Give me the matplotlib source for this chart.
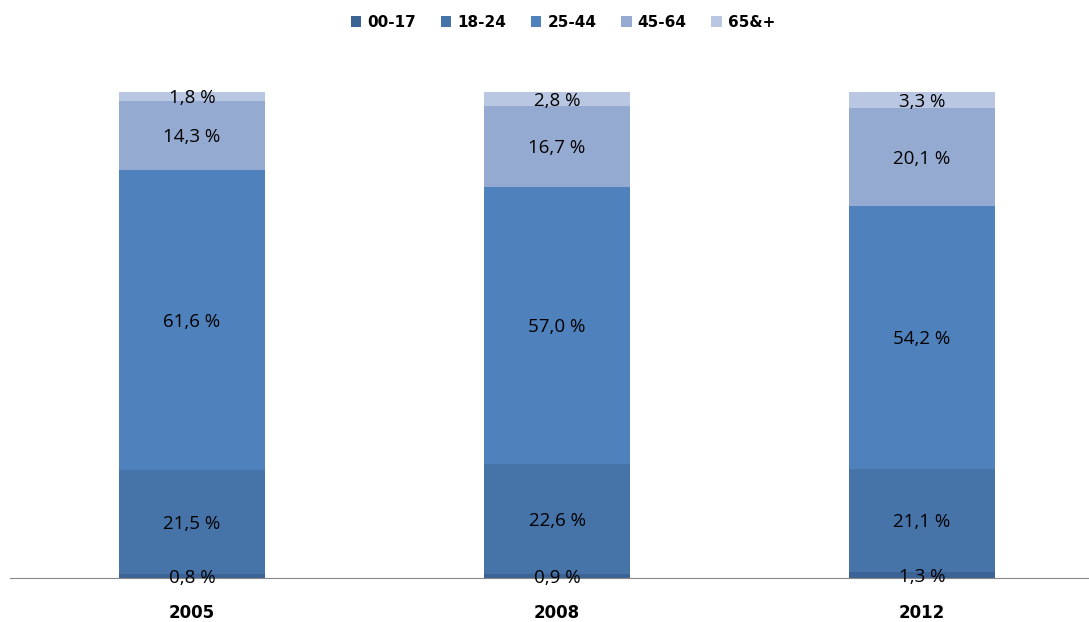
import matplotlib.pyplot as plt
import numpy as np

years = ['2005', '2008', '2012']
groups = ['00-17', '18-24', '25-44', '45-64', '65&+']
shares = {
    '00-17': [0.8, 0.9, 1.3],
    '18-24': [21.5, 22.6, 21.1],
    '25-44': [61.6, 57.0, 54.2],
    '45-64': [14.3, 16.7, 20.1],
    '65&+': [1.8, 2.8, 3.3],
}
colors = ['#3B6396', '#4674A9', '#4F81BD', '#95AAD1', '#B9C7E3']

plt.rcParams['font.family'] = ['Open Sans', 'DejaVu Sans']

fig = plt.figure(figsize=(10.89, 6.22), dpi=100)
ax = fig.add_axes([10 / 1089, 44 / 622, 1079 / 1089, 486 / 622])

x = np.arange(len(years))
bottom = np.zeros(len(years))
for g, c in zip(groups, colors):
    vals = np.array(shares[g])
    ax.bar(x, vals, 0.4, bottom=bottom, color=c, label=g, linewidth=0)
    for xi, b, v in zip(x, bottom, vals):
        ax.text(xi, b + v / 2, f'{v:.1f} %'.replace('.', ','),
                ha='center', va='center_baseline', fontsize=13.5, color='black')
    bottom += vals

ax.set_xlim(-0.4986, 2.4575)
ax.set_ylim(0, 100)
ax.set_xticks(x)
ax.set_xticklabels(years, fontsize=12, fontweight='bold', family='DejaVu Sans')
ax.tick_params(axis='x', length=0, pad=19)
ax.set_yticks([])
for s in ['top', 'right', 'left']:
    ax.spines[s].set_visible(False)
ax.spines['bottom'].set_color('#888888')

fig.legend(loc='upper center', bbox_to_anchor=(0.517, 0.998), ncol=5, frameon=False,
           prop={'weight': 'bold', 'size': 11, 'family': 'DejaVu Sans'},
           handlelength=0.7, handleheight=0.7, columnspacing=1.6, handletextpad=0.4)

fig.savefig('out.png', dpi=100)
